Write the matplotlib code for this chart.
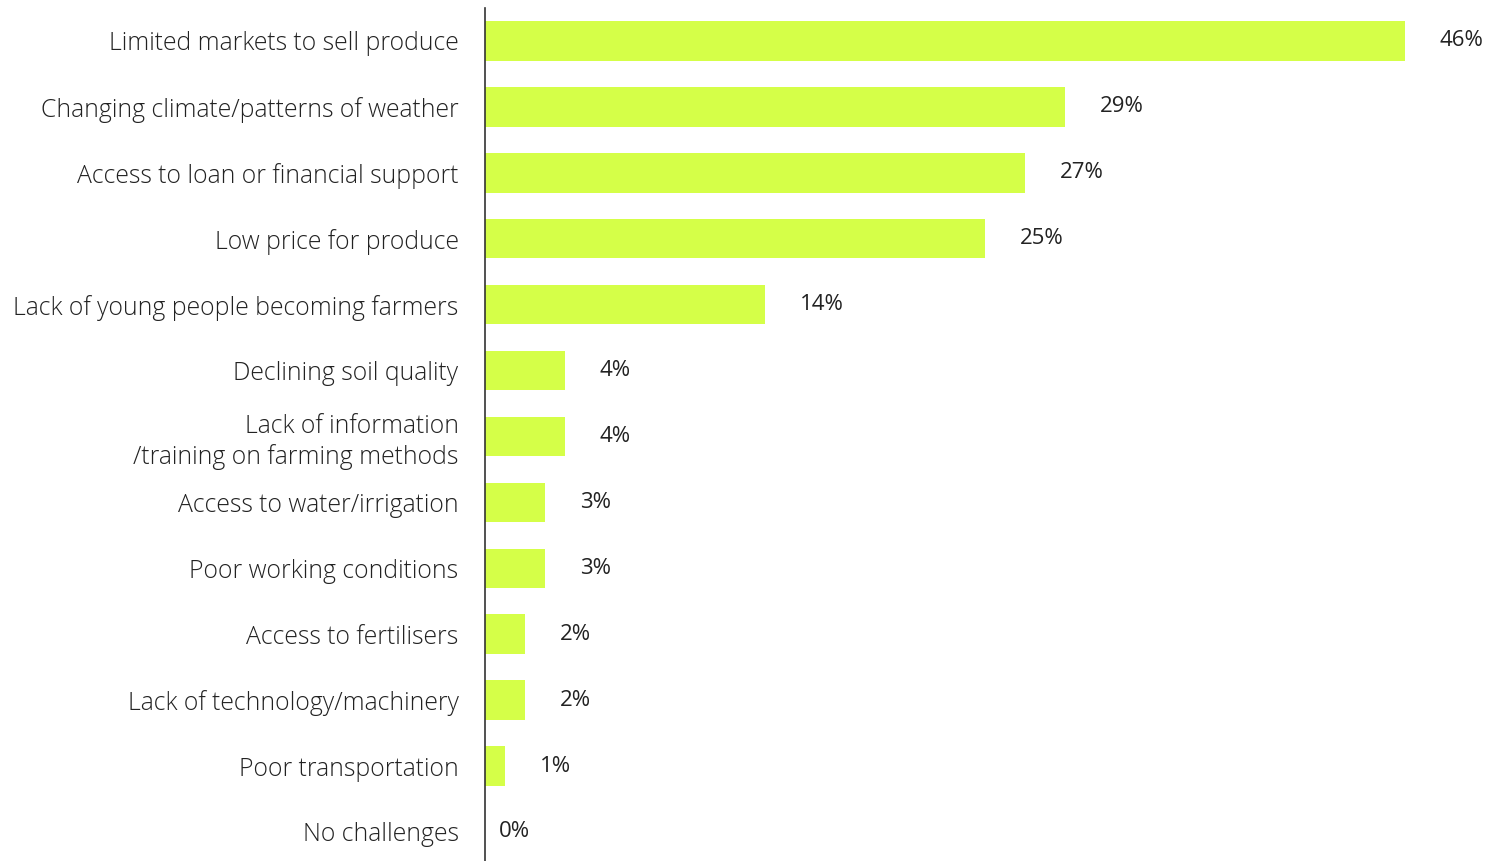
import matplotlib
matplotlib.use("Agg")
import matplotlib.pyplot as plt

categories = [
    "Limited markets to sell produce",
    "Changing climate/patterns of weather",
    "Access to loan or financial support",
    "Low price for produce",
    "Lack of young people becoming farmers",
    "Declining soil quality",
    "Lack of information\n/training on farming methods",
    "Access to water/irrigation",
    "Poor working conditions",
    "Access to fertilisers",
    "Lack of technology/machinery",
    "Poor transportation",
    "No challenges",
]
values = [46, 29, 27, 25, 14, 4, 4, 3, 3, 2, 2, 1, 0]
value_labels = ["46%", "29%", "27%", "25%", "14%", "4%", "4%", "3%", "3%", "2%", "2%", "1%", "0%"]

BAR_COLOR = "#D5FF48"
TEXT_COLOR = "#222222"

W, H = 1490, 861
fig = plt.figure(figsize=(W / 100, H / 100), dpi=100)
ax = fig.add_axes([485 / W, 0, 1 - 485 / W, (861 - 8) / H])

pos = list(range(len(categories)))
ax.barh(pos, values, height=0.6, color=BAR_COLOR, zorder=2)

ax.set_xlim(0, (W - 485) / 20)
ax.set_ylim(12.44, -0.5)

for s in ["top", "right", "bottom"]:
    ax.spines[s].set_visible(False)
ax.spines["left"].set_color("#333333")
ax.spines["left"].set_linewidth(1.2)
ax.set_xticks([])
ax.set_yticks(pos)
ax.set_yticklabels(categories, fontfamily="Open Sans", fontweight="light",
                   fontsize=17.8, color=TEXT_COLOR, linespacing=1.25)
ax.tick_params(axis="y", length=0, pad=19)

for p, v, lab in zip(pos, values, value_labels):
    off = 1.75 if v > 0 else 0.7
    ax.text(v + off, p, lab, va="center", ha="left", fontfamily="Open Sans",
            fontweight="medium", fontsize=16, color=TEXT_COLOR)

fig.savefig("out.png", dpi=100, facecolor="white")
